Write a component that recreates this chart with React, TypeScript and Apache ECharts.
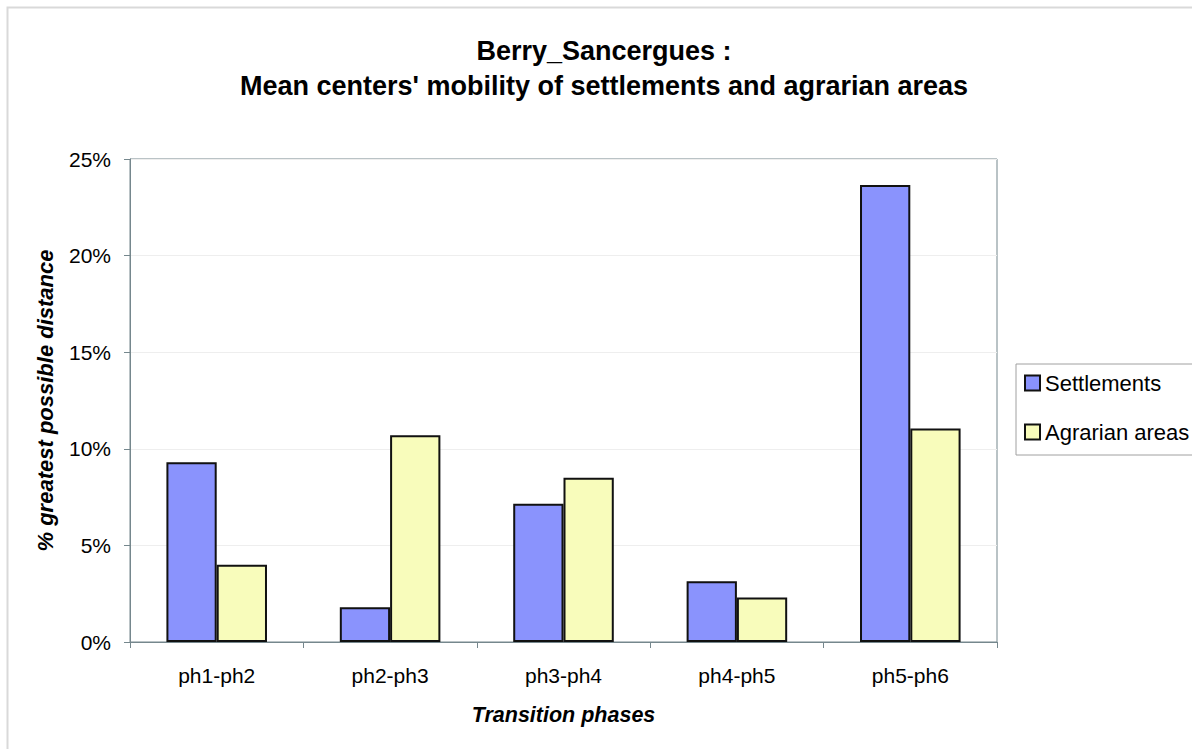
import React, { useEffect, useRef } from "react";
import * as echarts from "echarts";

const categories = ["ph1-ph2", "ph2-ph3", "ph3-ph4", "ph4-ph5", "ph5-ph6"];
const settlements = [9.3, 1.8, 7.15, 3.15, 23.65];
const agrarian = [4.0, 10.7, 8.5, 2.3, 11.05];
const seriesNames = ["Settlements", "Agrarian areas"];

const FONT = "'Liberation Sans', Arial, sans-serif";

export default function App() {
  const ref = useRef<HTMLDivElement>(null);
  useEffect(() => {
    document.body.style.margin = "0";
    const chart = echarts.init(ref.current!, null, { renderer: "svg" });
    chart.setOption({
      animation: false,
      backgroundColor: "#ffffff",
      textStyle: { fontFamily: FONT, color: "#000" },
      title: {
        text: "Berry_Sancergues :\nMean centers' mobility of settlements and agrarian areas",
        left: 604,
        textAlign: "center",
        top: 33,
        padding: 0,
        textStyle: { fontFamily: FONT, fontWeight: "bold", fontSize: 27, lineHeight: 35.5, color: "#000" },
      },
      graphic: [
        {
          type: "rect",
          shape: { x: 7.5, y: 7.5, width: 1200, height: 760 },
          style: { fill: "none", stroke: "#d9d9d9", lineWidth: 2 },
          silent: true,
          z: -10,
        },
      ],
      legend: {
        orient: "vertical",
        left: 1016,
        top: 364,
        padding: [8, 30, 12, 8],
        itemGap: 27,
        itemWidth: 15,
        itemHeight: 15,
        borderColor: "#a0a0a0",
        borderWidth: 1,
        icon: "rect",
        textStyle: { fontFamily: FONT, fontSize: 22, color: "#000" },
        data: seriesNames,
      },
      grid: {
        left: 130,
        top: 159,
        right: 195,
        bottom: 107,
        show: true,
        borderColor: "#75878d",
        borderWidth: 1,
        containLabel: false,
      },
      xAxis: {
        type: "category",
        data: categories,
        name: "Transition phases",
        nameLocation: "middle",
        nameGap: 62,
        nameTextStyle: { fontFamily: FONT, fontWeight: "bold", fontStyle: "italic", fontSize: 21.5, color: "#000" },
        axisLine: { lineStyle: { color: "#75878d", width: 1 } },
        axisTick: { show: true, length: 6, lineStyle: { color: "#75878d" } },
        axisLabel: { margin: 23, fontFamily: FONT, fontSize: 21, color: "#000" },
      },
      yAxis: {
        type: "value",
        min: 0,
        max: 25,
        interval: 5,
        name: "% greatest possible distance",
        nameLocation: "middle",
        nameGap: 74,
        nameRotate: 90,
        nameTextStyle: { fontFamily: FONT, fontWeight: "bold", fontStyle: "italic", fontSize: 22, color: "#000" },
        axisLine: { show: true, lineStyle: { color: "#75878d", width: 1 } },
        axisTick: { show: true, length: 6, lineStyle: { color: "#75878d" } },
        axisLabel: { formatter: "{value}%", margin: 19, fontFamily: FONT, fontSize: 21, color: "#000" },
        splitLine: { show: true, lineStyle: { color: "#eeeeee", width: 1 } },
      },
      series: [
        {
          name: seriesNames[0],
          type: "bar",
          data: settlements,
          barGap: "0%",
          barCategoryGap: "42%",
          itemStyle: { color: "#8a93fd", borderColor: "#111", borderWidth: 2 },
        },
        {
          name: seriesNames[1],
          type: "bar",
          data: agrarian,
          barGap: "0%",
          barCategoryGap: "42%",
          itemStyle: { color: "#f8fcbb", borderColor: "#111", borderWidth: 2 },
        },
      ],
    });
    return () => chart.dispose();
  }, []);
  return <div ref={ref} style={{ width: 1192, height: 749 }} />;
}
